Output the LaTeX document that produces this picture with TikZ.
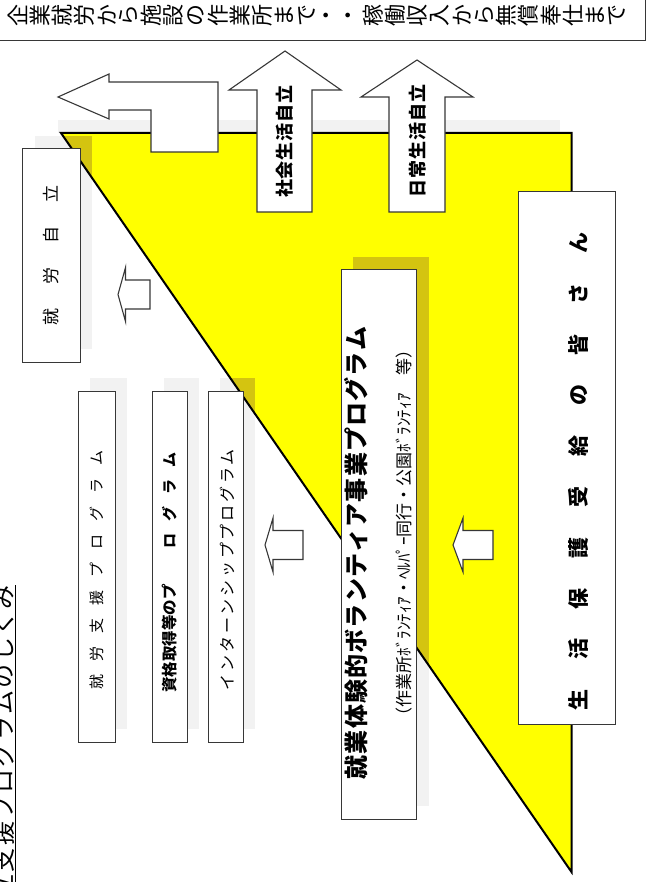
\documentclass[tikz,border=0pt]{standalone}
\usepackage{fontspec}
\setmainfont{Noto Sans CJK JP}
\usepackage{tikz}
\usetikzlibrary{positioning}

\definecolor{sunyellow}{RGB}{255,255,0}
\definecolor{shadeolive}{RGB}{212,196,16}
\definecolor{shadegray}{RGB}{242,242,242}
\definecolor{edgegray}{RGB}{55,55,55}

\newcommand\fs[1]{\fontsize{#1}{#1}\selectfont}
\newcommand\gapped[2]{\def\gapwd{#1}\gapstep#2\relax}
\def\gapstep#1#2{#1\ifx\relax#2\else\hskip\gapwd\relax\expandafter\gapstep\expandafter#2\fi}

\begin{document}
\begin{tikzpicture}[x=1pt,y=-1pt,line join=miter]
\tikzstyle{box}=[draw=edgegray,line width=1pt,fill=white,inner sep=0pt]
\tikzstyle{vtext}=[rotate=90,inner sep=0pt,text=black]
\tikzstyle{hollow}=[draw=edgegray,line width=1.1pt,fill=white]
\useasboundingbox (0,0) rectangle (647,882);
\clip (0,0) rectangle (647,882);

% range of work
\node[box,minimum width=652,minimum height=47,anchor=north west] (range) at (-7,-7) {};
\foreach \c [count=\i] in {企,業,就,労,か,ら,施,設,の,作,業,所,ま,で,・,・,稼,働,収,入,か,ら,無,償,奉,仕,ま,で}
  \node[vtext,font=\fs{22}] (w\i) at ({-4.2+22.2*\i},16) {\c};

% title
\node[vtext,anchor=east,font=\fs{24}] (title) at (4,585) {\underline{\gapped{2.3pt}{自立支援プログラムのしくみ}}};

% shadows and triangle
\fill[shadegray] (58,120) rectangle (560,133);
\foreach \a/\b/\c/\d in {34.7/136/92/349, 90/378/127/729, 164/378/199/729, 220/378/255/729, 353/257/428.5/806}
  \fill[shadegray] (\a,\b) rectangle (\c,\d);
\fill[sunyellow] (61,133) -- (571.5,133) -- (571.5,872) -- cycle;
\begin{scope}
\clip (61,133) -- (571.5,133) -- (571.5,872) -- cycle;
\foreach \a/\b/\c/\d in {34.7/136/92/349, 90/378/127/729, 164/378/199/729, 220/378/255/729, 353/257/428.5/806}
  \fill[shadeolive] (\a,\b) rectangle (\c,\d);
\end{scope}
\draw[line width=2pt] (61,133) -- (571.5,133) -- (571.5,872) -- cycle;

% boxes
\node[box,minimum width=57.3,minimum height=213] (goal) at (51.35,255.5) {};
\node[box,minimum width=37,minimum height=351] (prog1) at (96.5,566.5) {};
\node[box,minimum width=35,minimum height=351] (prog2) at (169.5,566.5) {};
\node[box,minimum width=35,minimum height=351] (prog3) at (225.5,566.5) {};
\node[box,minimum width=75.5,minimum height=549] (volunteer) at (378.75,544.5) {};
\node[box,minimum width=97,minimum height=532] (people) at (566.5,458) {};

% big arrows
\draw[hollow] (58,97) -- (109,74) -- (109,82) -- (218,82) -- (218,152) -- (151,152) -- (151,110) -- (109,110) -- (109,119) -- cycle;
\draw[hollow] (285,51) -- (341,90) -- (312,90) -- (312,212) -- (257,212) -- (257,90) -- (229,90) -- cycle;
\draw[hollow] (417,60) -- (473,97) -- (445,97) -- (445,212) -- (389,212) -- (389,97) -- (361,97) -- cycle;

% small arrows
\foreach \tx/\bx/\ex/\cy in {118/125.5/150/294.5, 265/273/303/545, 453/463/493/545}
  \draw[hollow] (\tx,\cy) -- (\bx,\cy-27) -- (\bx,\cy-14.5) -- (\ex,\cy-14.5) -- (\ex,\cy+14.5) -- (\bx,\cy+14.5) -- (\bx,\cy+27) -- cycle;

% texts
\node[vtext,font=\bfseries\fs{18}] (social) at (285,141.5) {\gapped{1pt}{社会生活自立}};
\node[vtext,font=\bfseries\fs{18}] (daily) at (418,141) {\gapped{1pt}{日常生活自立}};
\node[vtext,font=\fs{17}] (goaltext) at (51,255) {\gapped{24pt}{就労自立}};
\node[vtext,font=\fs{15}] (prog1text) at (96.5,570) {\gapped{13pt}{就労支援プログラム}};
\node[vtext,font=\bfseries\fs{15}] (prog2text) at (170,572.5) {{\fs{15.5}資格取得等のプ}\hskip36pt\gapped{12pt}{ログラム}};
\node[vtext,font=\fs{16}] (prog3text) at (227,569.5) {\gapped{2.75pt}{インターンシッププログラム}};
\node[vtext,font=\bfseries\fs{24}] (voltext) at (356,553) {\gapped{1.2pt}{就業体験的ボランティア事業プログラム}};
\node[vtext,font=\fs{17}] (volsub) at (404,533) {（作業所ﾎﾞﾗﾝﾃｨｱ・ﾍﾙﾊﾟｰ同行・公園ﾎﾞﾗﾝﾃｨｱ　等）};
\node[vtext,font=\bfseries\fs{21}] (peopletext) at (578,471.5) {\gapped{29.8pt}{生活保護受給の皆さん}};
\end{tikzpicture}
\end{document}
